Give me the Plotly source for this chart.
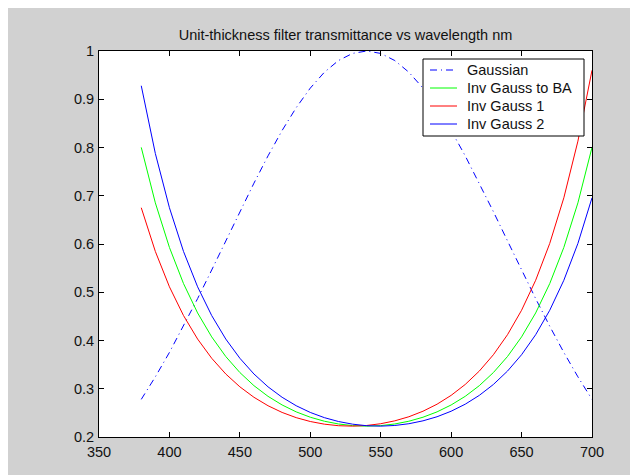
import plotly.graph_objects as go

wavelength = [380, 390, 400, 410, 420, 430, 440, 450, 460, 470, 480, 490, 500, 510, 520,
              530, 540, 550, 560, 570, 580, 590, 600, 610, 620, 630, 640, 650, 660, 670,
              680, 690, 700]

gaussian = [0.2780, 0.3247, 0.3753, 0.4296, 0.4868, 0.5461, 0.6065, 0.6670, 0.7261, 0.7827,
            0.8353, 0.8825, 0.9231, 0.9560, 0.9802, 0.9950, 1.0000, 0.9950, 0.9802, 0.9560,
            0.9231, 0.8825, 0.8353, 0.7827, 0.7261, 0.6670, 0.6065, 0.5461, 0.4868, 0.4296,
            0.3753, 0.3247, 0.2780]

inv_gauss_ba = [0.8002, 0.6853, 0.5929, 0.5180, 0.4571, 0.4075, 0.3668, 0.3336, 0.3064, 0.2843,
                0.2664, 0.2521, 0.2410, 0.2327, 0.2270, 0.2236, 0.2225, 0.2236, 0.2270, 0.2327,
                0.2410, 0.2521, 0.2664, 0.2843, 0.3064, 0.3336, 0.3668, 0.4075, 0.4571, 0.5180,
                0.5929, 0.6853, 0.8002]

inv_gauss_1 = [0.6752, 0.5846, 0.5113, 0.4517, 0.4030, 0.3632, 0.3306, 0.3040, 0.2823, 0.2648,
               0.2509, 0.2401, 0.2321, 0.2266, 0.2234, 0.2225, 0.2239, 0.2275, 0.2335, 0.2420,
               0.2534, 0.2680, 0.2863, 0.3089, 0.3366, 0.3705, 0.4120, 0.4627, 0.5248, 0.6012,
               0.6957, 0.8132, 0.9600]

inv_gauss_2 = [0.9280, 0.7876, 0.6752, 0.5846, 0.5113, 0.4517, 0.4030, 0.3632, 0.3306, 0.3040,
               0.2823, 0.2648, 0.2509, 0.2401, 0.2321, 0.2266, 0.2234, 0.2225, 0.2239, 0.2275,
               0.2335, 0.2420, 0.2534, 0.2680, 0.2863, 0.3089, 0.3366, 0.3705, 0.4120, 0.4627,
               0.5248, 0.6012, 0.6957]

series_names = ["Gaussian", "Inv Gauss to BA", "Inv Gauss 1", "Inv Gauss 2"]
series_values = [gaussian, inv_gauss_ba, inv_gauss_1, inv_gauss_2]
series_colors = ["#0000ff", "#00ff00", "#ff0000", "#0000ff"]
series_dash = ["7px,4px,1px,4px", "solid", "solid", "solid"]

x_ticks = [350, 400, 450, 500, 550, 600, 650, 700]
y_ticks = [0.2, 0.3, 0.4, 0.5, 0.6, 0.7, 0.8, 0.9, 1]
y_tick_labels = ["0.2", "0.3", "0.4", "0.5", "0.6", "0.7", "0.8", "0.9", "1"]

FONT = "Liberation Sans, Arial"
W, H = 638, 475
L, R, T, B = 91, 584, 43, 429  # plot area edges in pixels


def px(xp):
    return (xp - L) / (R - L)


def py(yp):
    return (B - yp) / (B - T)


fig = go.Figure()
for name, vals, col, dash in zip(series_names, series_values, series_colors, series_dash):
    fig.add_trace(go.Scatter(x=wavelength, y=vals, mode="lines", name=name,
                             line=dict(color=col, width=1, dash=dash), showlegend=False))

# Legend drawn as box + sample lines + text (MATLAB style compact legend)
shapes = [dict(type="rect", xref="paper", yref="paper", x0=px(415), x1=px(576),
               y0=py(128), y1=py(51), line=dict(color="black", width=1),
               fillcolor="white", layer="above")]
annotations = []
row_y = [62, 80, 98, 116]
for name, col, dash, ry in zip(series_names, series_colors, series_dash, row_y):
    shapes.append(dict(type="line", xref="paper", yref="paper", x0=px(422), x1=px(449),
                       y0=py(ry), y1=py(ry), line=dict(color=col, width=1, dash=dash),
                       layer="above"))
    annotations.append(dict(text=name, xref="paper", yref="paper", x=px(457), y=py(ry),
                            xanchor="left", yanchor="middle", showarrow=False,
                            font=dict(family=FONT, size=14.5, color="#111111")))

axis_common = dict(showgrid=False, zeroline=False, showline=True, linecolor="black",
                   linewidth=1, mirror="ticks", ticks="inside", ticklen=5, tickcolor="black",
                   tickfont=dict(family=FONT, size=14.5, color="#111111"))

fig.update_layout(
    width=W, height=H,
    paper_bgcolor="#d1d1d1", plot_bgcolor="white",
    margin=dict(l=L, r=W - R, t=T, b=H - B),
    title=dict(text="Unit-thickness filter transmittance vs wavelength nm",
               x=(L + R) / 2 / W, xanchor="center", y=1 - 27 / H, yanchor="middle",
               font=dict(family=FONT, size=14.5, color="#111111")),
    xaxis=dict(range=[350, 700], tickvals=x_ticks, ticktext=[str(v) for v in x_ticks],
               ticklabelstandoff=2, **axis_common),
    yaxis=dict(range=[0.2, 1], tickvals=y_ticks, ticktext=y_tick_labels,
               ticklabelstandoff=1, **axis_common),
    shapes=shapes,
    annotations=annotations,
    showlegend=False,
)

fig.write_html("out.html")
